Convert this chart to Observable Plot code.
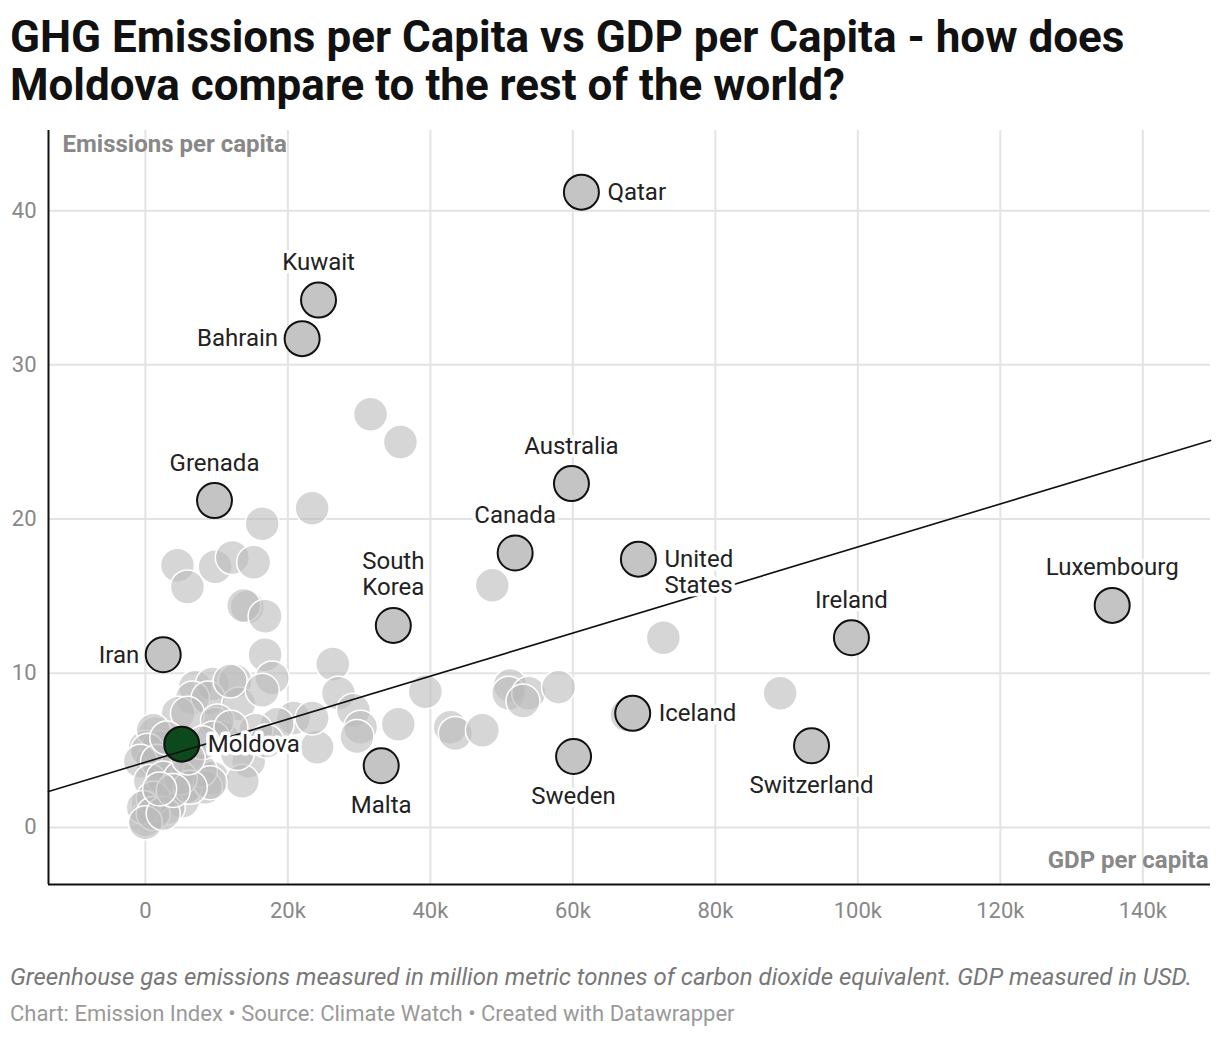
<!DOCTYPE html>
<html>
<head>
<meta charset="utf-8">
<script src="https://cdn.jsdelivr.net/npm/d3@7"></script>
<script src="https://cdn.jsdelivr.net/npm/@observablehq/plot@0.6"></script>
<style>
  body { margin: 0; background: #fff; font-family: Roboto, sans-serif; width: 1220px; }
  h1 { margin: 0; padding: 13px 10px 0 10px; font-size: 44px; line-height: 48px; font-weight: 700; color: #111; height: 120px; box-sizing: border-box; }
  #chart svg { display: block; }
  .caption { margin: 29px 0 0 10px; font-size: 24px; line-height: 28px; font-style: italic; color: #777; white-space: nowrap; }
  .credit { margin: 10px 0 0 10px; font-size: 22px; line-height: 26px; color: #999; white-space: nowrap; }
</style>
</head>
<body>
<h1>GHG Emissions per Capita vs GDP per Capita - how does Moldova compare to the rest of the world?</h1>
<div id="chart"></div>
<div class="caption">Greenhouse gas emissions measured in million metric tonnes of carbon dioxide equivalent. GDP measured in USD.</div>
<div class="credit">Chart: Emission Index • Source: Climate Watch • Created with Datawrapper</div>
<script>
// GDP per capita in thousands of USD
const bgGdp = [31.6,35.8,23.4,16.4,4.5,5.9,9.8,12.2,15.2,14.3,13.8,16.8,16.8,17.8,
  26.3,27.1,29.2,30.2,35.5,39.3,24.1,20.8,23.4,18.5,29.7,
  7.0,9.4,12.6,6.6,8.8,13.1,4.6,9.8,10.8,1.4,0.0,1.0,1.8,3.8,7.0,9.4,14.5,13.6,8.4,1.8,0.4,1.4,0.0,5.2,5.6,3.2,
  11.9,5.9,10.1,9.5,12.9,7.7,9.1,1.1,0.3,-0.7,1.7,0.7,2.5,4.9,6.3,1.1,-0.3,1.1,0.0,2.5,3.9,
  16.4,15.5,17.0,12.0,8.0,3.0,6.0,2.0,
  42.8,43.5,47.3,48.7,51.2,51.0,53.8,53.0,58.0,72.7,67.6,89.1];
const bgEmis = [26.8,25.0,20.7,19.7,17.0,15.6,16.9,17.5,17.2,14.3,14.4,13.7,11.2,9.7,
  10.6,8.7,7.6,6.5,6.7,8.8,5.2,7.1,7.1,6.7,5.9,
  9.1,9.3,9.5,8.4,8.4,8.0,7.4,6.7,5.8,6.1,5.2,4.3,5.2,3.7,3.9,3.2,4.3,3.0,2.6,1.9,1.6,1.1,0.5,1.7,2.6,1.3,
  9.5,7.4,6.9,5.8,4.8,3.7,2.9,6.3,5.0,4.3,4.3,3.0,3.2,3.2,2.6,1.9,1.3,0.9,0.3,0.9,2.4,
  8.9,6.3,5.6,6.5,5.5,5.8,4.5,2.5,
  6.5,6.1,6.3,15.7,9.2,8.7,8.7,8.2,9.1,12.3,7.3,8.7];

const labNames = ["Qatar","Kuwait","Bahrain","Grenada","Australia","Canada","United\nStates","South\nKorea","Iran","Luxembourg","Ireland","Iceland","Moldova","Malta","Sweden","Switzerland"];
const labGdp   = [61.2,24.3,22.0,9.7,59.8,51.9,69.2,34.8,2.5,135.7,99.1,68.4,5.1,33.1,60.1,93.5];
const labEmis  = [41.2,34.2,31.7,21.2,22.3,17.8,17.4,13.1,11.2,14.4,12.3,7.4,5.4,4.0,4.6,5.3];
const labPos   = ["right","top","left","top","top","top","right","top","left","top","top","right","right","bottom","bottom","bottom"];
const highlight = "Moldova";

const xTicks = [0,20,40,60,80,100,120,140];
const yTicks = [0,10,20,30,40];
const xDomain = [-13.6, 149.5];
const yDomain = [-3.7, 45.2];
const trendIntercept = 4.23;
const trendSlope = 0.1396;

const bg = bgGdp.map((g,i) => ({gdp: g, emis: bgEmis[i]}));
const labs = labNames.map((n,i) => ({name: n, gdp: labGdp[i], emis: labEmis[i], pos: labPos[i]}));
const trend = xDomain.map(x => ({gdp: x, emis: trendIntercept + trendSlope * x}));

const font = "Roboto, sans-serif";
const labelBase = {x: "gdp", y: "emis", text: "name", fontSize: 24, lineHeight: 1.1, fill: "#222", stroke: "white", strokeWidth: 7, fontFamily: font};

const chart = Plot.plot({
  width: 1220,
  height: 814,
  marginLeft: 48,
  marginRight: 10,
  marginTop: 10,
  marginBottom: 50,
  style: {fontFamily: font, fontSize: "22px", color: "#888", background: "white"},
  x: {domain: xDomain, ticks: xTicks},
  y: {domain: yDomain, ticks: yTicks},
  marks: [
    Plot.gridX(xTicks, {stroke: "#e3e3e3", strokeOpacity: 1, strokeWidth: 2}),
    Plot.gridY(yTicks, {stroke: "#e3e3e3", strokeOpacity: 1, strokeWidth: 2}),
    Plot.axisX(xTicks, {tickSize: 0, tickPadding: 18, fontSize: 22, tickFormat: d => d === 0 ? "0" : d + "k", label: null}),
    Plot.axisY(yTicks, {tickSize: 0, tickPadding: 12, fontSize: 22, label: null}),
    Plot.dot(bg, {x: "gdp", y: "emis", r: 17, fill: "#bbbbbb", fillOpacity: 0.6, stroke: "white", strokeWidth: 1.5}),
    Plot.dot(labs, {x: "gdp", y: "emis", r: 17.5, fill: d => d.name === highlight ? "#0c4a1d" : "#c4c4c4", stroke: "#111", strokeWidth: 2}),
    Plot.line(trend, {x: "gdp", y: "emis", stroke: "#111", strokeWidth: 1.6}),
    Plot.text(labs.filter(d => d.pos === "top"), {...labelBase, lineAnchor: "bottom", dy: -30}),
    Plot.text(labs.filter(d => d.pos === "bottom"), {...labelBase, lineAnchor: "middle", dy: 39}),
    Plot.text(labs.filter(d => d.pos === "right"), {...labelBase, lineAnchor: "top", textAnchor: "start", dx: 26, dy: -11}),
    Plot.text(labs.filter(d => d.pos === "left"), {...labelBase, lineAnchor: "top", textAnchor: "end", dx: -24, dy: -11}),
    Plot.ruleX([xDomain[0]], {stroke: "#111", strokeWidth: 2}),
    Plot.ruleY([yDomain[0]], {stroke: "#111", strokeWidth: 2}),
    Plot.text(["Emissions per capita"], {frameAnchor: "top-left", textAnchor: "start", lineAnchor: "middle", dx: 14, dy: 14, fontSize: 24, fontWeight: 700, fill: "#888", fontFamily: font}),
    Plot.text(["GDP per capita"], {frameAnchor: "bottom-right", textAnchor: "end", lineAnchor: "middle", dx: -2, dy: -24, fontSize: 24, fontWeight: 700, fill: "#888", fontFamily: font})
  ]
});
document.getElementById("chart").appendChild(chart);
</script>
</body>
</html>
